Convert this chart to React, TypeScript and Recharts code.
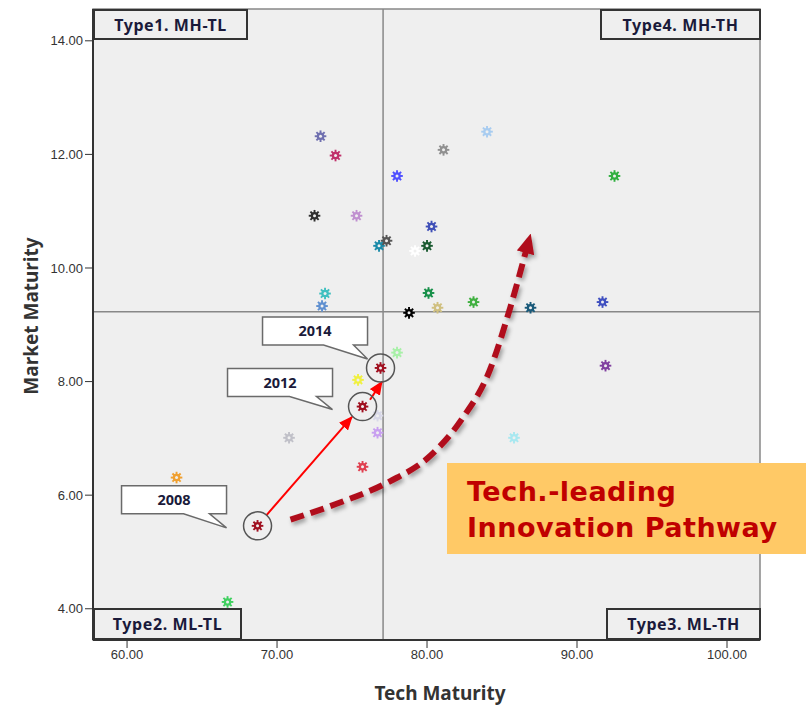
import React from 'react';
import {
  ComposedChart, Scatter, Line, XAxis, YAxis, Cell, ReferenceLine, ReferenceArea, ReferenceDot,
} from 'recharts';

// firm positions: tech maturity (x) vs market maturity (y)
const TECH = [72.9, 73.9, 78.0, 81.1, 84.0, 92.5, 72.5, 75.3, 76.8, 77.3, 80.3, 79.2, 80.0, 73.2, 73.0, 80.1, 78.8,
  80.7, 83.1, 86.9, 91.7, 91.9, 76.9, 78.0, 75.4, 75.7, 76.7, 76.7, 70.8, 75.7, 85.8, 63.3, 68.7, 66.7];
const MARKET = [12.32, 11.98, 11.62, 12.08, 12.4, 11.62, 10.92, 10.92, 10.39, 10.48, 10.73, 10.3, 10.39, 9.55, 9.33,
  9.56, 9.21, 9.3, 9.4, 9.3, 9.4, 8.28, 8.24, 8.51, 8.03, 7.56, 7.4, 7.1, 7.01, 6.5, 7.01, 6.31, 5.46, 4.12];
const COLORS = ['#7070b0', '#c0306a', '#5050ff', '#909090', '#a8ccf0', '#30b040', '#303030', '#c090d0', '#1a8aa8',
  '#555555', '#4050b8', '#ffffff', '#1a5a30', '#40c0c0', '#6090d0', '#18904a', '#000000', '#d0c080', '#40b040',
  '#1a5a7a', '#4050c0', '#8040a0', '#a01020', '#a8f0a8', '#f0f040', '#a01020', '#d8d8e8', '#c8a0f0', '#c0c0c8',
  '#e04050', '#a8e8f0', '#f0a030', '#a01020', '#40d060'];

// highlighted firm by year (index into TECH/MARKET)
const YEARS = ['2008', '2012', '2014'];
const YEAR_IDX = [32, 25, 22];

const X_TICKS = [60, 70, 80, 90, 100];
const Y_TICKS = [4, 6, 8, 10, 12, 14];
const TECH_SPLIT = 77.07;
const MARKET_SPLIT = 9.23;

// pathway arrows (data coords)
const ARROW_FROM = [{ x: 69.3, y: 5.65 }, { x: 76.2, y: 7.68 }];
const ARROW_TO = [{ x: 75.0, y: 7.38 }, { x: 77.0, y: 8.0 }];
const PATH_X = [70.9, 74.2, 77.5, 80.2, 82.3, 84.2, 85.5, 86.6];
const PATH_Y = [5.57, 5.87, 6.24, 6.69, 7.33, 8.21, 9.26, 10.3];

const X_DOMAIN = [57.73, 102.2];
const Y_DOMAIN = [3.45, 14.56];

const points = TECH.map((x, i) => ({ x, y: MARKET[i] }));
const pathway = PATH_X.map((x, i) => ({ x, y: PATH_Y[i] }));

const Gear = (props: any) => {
  const { cx, cy, fill } = props;
  if (cx == null) return null;
  const spokes = [];
  for (let k = 0; k < 8; k++) {
    const a = (k * Math.PI) / 4;
    spokes.push(
      <line key={k} x1={cx + Math.cos(a) * 2.5} y1={cy + Math.sin(a) * 2.5} x2={cx + Math.cos(a) * 5.8}
        y2={cy + Math.sin(a) * 5.8} stroke={fill} strokeWidth={1.9} />
    );
  }
  return (
    <g>
      {spokes}
      <circle cx={cx} cy={cy} r={3.8} fill={fill} />
      <circle cx={cx} cy={cy} r={1.5} fill="#efefef" />
    </g>
  );
};

// callout geometry relative to the highlighted point
const CALLOUT = [
  { left: -136, top: -40, b1: 62, b2: 88, tx: -31, ty: 2 },
  { left: -135, top: -38, b1: 62, b2: 89, tx: -30, ty: 3 },
  { left: -118, top: -51, b1: 61, b2: 91, tx: -13, ty: -9 },
];

const makeCallout = (label: string, g: typeof CALLOUT[0]) => (p: any) => {
  const { cx, cy } = p;
  const w = 105, h = 28;
  const L = cx + g.left, T = cy + g.top;
  const d = `M${L},${T} H${L + w} V${T + h} H${L + g.b2} L${cx + g.tx},${cy + g.ty} L${L + g.b1},${T + h} H${L} Z`;
  return (
    <g>
      <path d={d} fill="#fff" stroke="#6a6a6a" strokeWidth={1.5} />
      <text x={L + w / 2} y={T + 19.5} textAnchor="middle" fontFamily="Noto Sans" fontWeight="bold" fontSize={14.5}
        fill="#1a1a3a">{label}</text>
    </g>
  );
};

const quadBox: React.CSSProperties = {
  position: 'absolute', border: '2px solid #333', background: '#efefef', boxSizing: 'border-box',
  fontFamily: 'Noto Sans', fontWeight: 'bold', fontSize: 16, letterSpacing: 0.6, color: '#1a1a3a', display: 'flex',
  alignItems: 'center', justifyContent: 'center',
};

const tickStyle = { fontSize: 13, fill: '#333', fontFamily: 'Liberation Sans' };

export default function App() {
  return (
    <div style={{ position: 'absolute', left: 0, top: 0, width: 806, height: 706, background: '#fff' }}>
      <svg width={0} height={0} style={{ position: 'absolute' }}>
        <defs>
          <marker id="redHead" viewBox="0 0 14 12" refX="13" refY="6" markerWidth="14" markerHeight="12"
            markerUnits="userSpaceOnUse" orient="auto">
            <path d="M0,0 L14,6 L0,12 Z" fill="#ff0000" />
          </marker>
          <marker id="darkHead" viewBox="0 0 20 18" refX="2" refY="9" markerWidth="20" markerHeight="18"
            markerUnits="userSpaceOnUse" orient="auto">
            <path d="M0,0 L20,9 L0,18 Z" fill="#b0101c" />
          </marker>
          <filter id="shadow" x="-20%" y="-20%" width="140%" height="140%">
            <feDropShadow dx="2" dy="3" stdDeviation="2" floodColor="#000" floodOpacity="0.35" />
          </filter>
        </defs>
      </svg>
      <ComposedChart width={806} height={706} margin={{ top: 9, right: 46, bottom: 26, left: 0 }}>
        <ReferenceArea x1={X_DOMAIN[0]} x2={X_DOMAIN[1]} y1={Y_DOMAIN[0]} y2={Y_DOMAIN[1]} fill="#efefef"
          fillOpacity={1} stroke="#888" strokeWidth={1.5} />
        <XAxis type="number" dataKey="x" domain={X_DOMAIN} ticks={X_TICKS} allowDataOverflow height={40}
          tickFormatter={(v: number) => v.toFixed(2)} tickSize={8} tick={tickStyle}
          axisLine={{ stroke: '#333', strokeWidth: 2 }} tickLine={{ stroke: '#333' }} />
        <YAxis type="number" dataKey="y" domain={Y_DOMAIN} ticks={Y_TICKS} allowDataOverflow width={93}
          tickFormatter={(v: number) => v.toFixed(2)} tickSize={8} tick={tickStyle}
          axisLine={{ stroke: '#333', strokeWidth: 2 }} tickLine={{ stroke: '#333' }} />
        <ReferenceLine x={TECH_SPLIT} stroke="#888" strokeWidth={1.5} />
        <ReferenceLine y={MARKET_SPLIT} stroke="#888" strokeWidth={1.5} />
        <Line data={pathway} dataKey="y" type="monotone" stroke="#b0101c" strokeWidth={6} strokeDasharray="14 7"
          dot={false} activeDot={false} isAnimationActive={false} markerEnd="url(#darkHead)" filter="url(#shadow)" />
        {ARROW_FROM.map((f, i) => (
          <ReferenceLine key={'a' + i} segment={[f, ARROW_TO[i]]} stroke="#ff0000" strokeWidth={2}
            shape={(p: any) => (
              <line x1={p.x1} y1={p.y1} x2={p.x2} y2={p.y2} stroke="#ff0000" strokeWidth={2} markerEnd="url(#redHead)" />
            )} />
        ))}
        <Scatter data={points} dataKey="y" shape={Gear} isAnimationActive={false}>
          {points.map((_, i) => <Cell key={i} fill={COLORS[i]} />)}
        </Scatter>
        {YEAR_IDX.map((idx, i) => (
          <ReferenceDot key={'c' + i} x={TECH[idx]} y={MARKET[idx]} r={14} fill="none" stroke="#555"
            strokeWidth={1.5} />
        ))}
        {YEAR_IDX.map((idx, i) => (
          <ReferenceDot key={'l' + i} x={TECH[idx]} y={MARKET[idx]} r={1}
            shape={makeCallout(YEARS[i], CALLOUT[i])} />
        ))}
      </ComposedChart>

      <div style={{ ...quadBox, left: 93, top: 9, width: 155, height: 31 }}>Type1. MH-TL</div>
      <div style={{ ...quadBox, left: 600, top: 9, width: 161, height: 31 }}>Type4. MH-TH</div>
      <div style={{ ...quadBox, left: 93, top: 608, width: 149, height: 32 }}>Type2. ML-TL</div>
      <div style={{ ...quadBox, left: 606, top: 608, width: 155, height: 32 }}>Type3. ML-TH</div>

      <div style={{
        position: 'absolute', left: 447, top: 463, width: 359, height: 91, background: '#ffc966',
        fontFamily: 'DejaVu Sans', fontWeight: 'bold', fontSize: 27, color: '#c00000', lineHeight: '36px',
        padding: '11px 0 0 20px', boxSizing: 'border-box', letterSpacing: 0.5, whiteSpace: 'nowrap',
      }}>
        Tech.-leading<br />Innovation Pathway
      </div>

      <div style={{
        position: 'absolute', left: 440, top: 693, transform: 'translate(-50%,-50%)', whiteSpace: 'nowrap',
        fontFamily: 'Noto Sans', fontWeight: 'bold', fontSize: 19, color: '#333',
      }}>Tech Maturity</div>
      <div style={{
        position: 'absolute', left: 31, top: 316, transform: 'translate(-50%,-50%) rotate(-90deg)',
        whiteSpace: 'nowrap', fontFamily: 'Noto Sans', fontWeight: 'bold', fontSize: 19, color: '#333',
      }}>Market Maturity</div>
    </div>
  );
}
